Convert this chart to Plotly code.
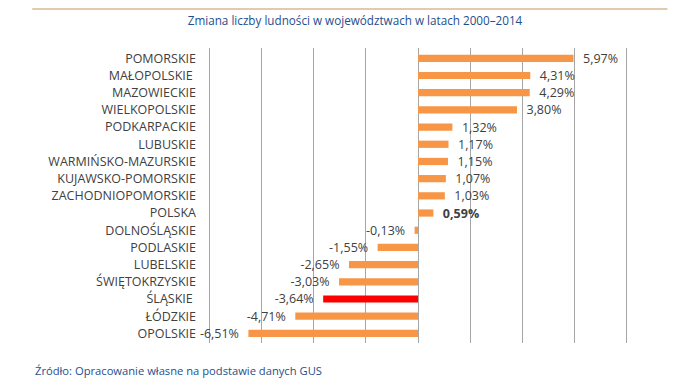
import plotly.graph_objects as go

categories = ["POMORSKIE", "MAŁOPOLSKIE\u00a0", "MAZOWIECKIE", "WIELKOPOLSKIE", "PODKARPACKIE",
              "LUBUSKIE", "WARMIŃSKO-MAZURSKIE", "KUJAWSKO-POMORSKIE", "ZACHODNIOPOMORSKIE",
              "POLSKA", "DOLNOŚLĄSKIE", "PODLASKIE", "LUBELSKIE", "ŚWIĘTOKRZYSKIE",
              "ŚLĄSKIE\u00a0", "ŁÓDZKIE", "OPOLSKIE"]
values = [5.97, 4.31, 4.29, 3.80, 1.32, 1.17, 1.15, 1.07, 1.03, 0.59,
          -0.13, -1.55, -2.65, -3.03, -3.64, -4.71, -6.51]
highlight = "ŚLĄSKIE\u00a0"
bold_cat = "POLSKA"

ORANGE = "#F79646"
RED = "#FF0000"

colors = [RED if c == highlight else ORANGE for c in categories]
texts = []
for c, v in zip(categories, values):
    s = f"{v:.2f}".replace(".", ",") + "%"
    if c == bold_cat:
        s = f"<b>{s}</b>"
    s = ("\u00a0\u00a0" + s) if v >= 0 else (s + "\u00a0\u00a0")
    texts.append(s)

# page body has an 8px margin; compensate so the figure lands where the reference is
OFF = 8
XR = 8.1                     # a bit wider than +-8 so the edge gridlines are drawn
PX_PER_UNIT = 416 / 16
W, H = 682 - OFF, 391 - OFF
ZERO_X = 418
L = ZERO_X - XR * PX_PER_UNIT - OFF
PW = 2 * XR * PX_PER_UNIT
R = W - L - PW
T = 48 - OFF
PH = 295
B = H - T - PH

fig = go.Figure(go.Bar(
    y=categories, x=values, orientation="h",
    marker=dict(color=colors, line=dict(width=0)),
    width=0.42,
    text=texts, textposition="outside", constraintext="none",
    textfont=dict(family="Open Sans", size=12.5, color="#404040"),
    cliponaxis=False,
))

fig.update_layout(
    width=W, height=H,
    margin=dict(l=L, r=R, t=T, b=B, autoexpand=False),
    paper_bgcolor="white", plot_bgcolor="white",
    showlegend=False,
    font=dict(family="Open Sans", size=12, color="#404040"),
    title=dict(text="Zmiana liczby ludności w województwach w latach 2000–2014",
               x=(355 - OFF) / W, xanchor="center", y=1 - (21 - OFF) / H, yanchor="middle",
               font=dict(family="Open Sans", size=11.7, color="#1F4E8C")),
    xaxis=dict(range=[-XR, XR], tick0=0, dtick=2, showticklabels=False, showgrid=True,
               gridcolor="#A6A6A6", gridwidth=1, zeroline=True, zerolinecolor="#A6A6A6",
               zerolinewidth=1, showline=False, ticks="", automargin=False),
    yaxis=dict(autorange=False, range=[16.56, -0.6], showgrid=False, zeroline=False,
               ticks="", ticklabelstandoff=10, automargin=False,
               tickfont=dict(family="Open Sans", size=12.5, color="#404040")),
    shapes=[dict(type="line", xref="paper", yref="paper",
                 x0=(33 - OFF - L) / PW, x1=(667 - OFF - L) / PW,
                 y0=1 + (T - 1) / PH, y1=1 + (T - 1) / PH,
                 line=dict(color="#D8B894", width=1.5))],
    annotations=[dict(text="Źródło: Opracowanie własne na podstawie danych GUS",
                      xref="paper", yref="paper", x=(34 - OFF - L) / PW, y=(343 - 370) / PH,
                      xanchor="left", yanchor="middle", showarrow=False,
                      font=dict(family="Open Sans", size=11.2, color="#1F4E8C"))],
)

fig.write_html("out.html")
